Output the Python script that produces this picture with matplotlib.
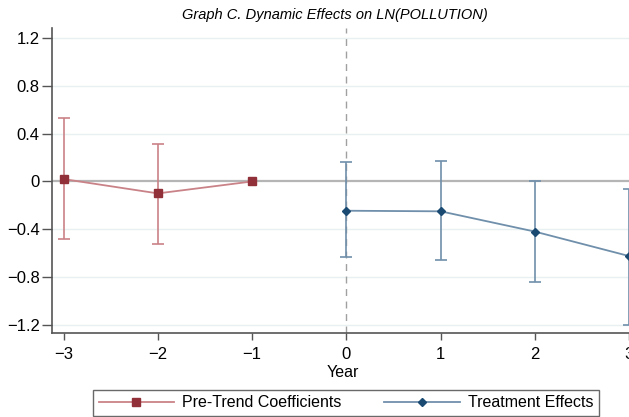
import matplotlib.pyplot as plt
import numpy as np

plt.rcParams['font.family'] = ['Liberation Sans', 'DejaVu Sans']

# pre-trend coefficients
pre_year = [-3, -2, -1]
pre_coef = [0.02, -0.10, 0.0]
pre_lo = [-0.48, -0.52, 0.0]
pre_hi = [0.535, 0.31, 0.0]

# treatment effects
post_year = [0, 1, 2, 3]
post_coef = [-0.245, -0.25, -0.42, -0.625]
post_lo = [-0.635, -0.655, -0.84, -1.2]
post_hi = [0.16, 0.17, 0.0, -0.06]

yticks = [-1.2, -0.8, -0.4, 0, 0.4, 0.8, 1.2]
ytick_labels = ["\u22121.2", "\u22120.8", "\u22120.4", "0", "0.4", "0.8", "1.2"]
xticks = [-3, -2, -1, 0, 1, 2, 3]
xtick_labels = ["\u22123", "\u22122", "\u22121", "0", "1", "2", "3"]

RED = "#913038"
RED_LINE = "#c98287"
BLUE = "#1a4a72"
BLUE_LINE = "#6f8fab"

fig = plt.figure(figsize=(6.29, 4.17), dpi=100)
ax = fig.add_axes([0.083, 0.201, 0.925, 0.732])

for y in yticks:
    if y != 0:
        ax.axhline(y, color="#e8f0f2", lw=1.0, zorder=0)
ax.axhline(0, color="#b5b5b5", lw=1.6, zorder=1)
ax.axvline(0, color="#a0a0a0", lw=1.0, ls=(0, (5, 4)), zorder=1)

pre = np.array(pre_coef)
ax.errorbar(pre_year[:2], pre[:2],
            yerr=[pre[:2] - np.array(pre_lo[:2]), np.array(pre_hi[:2]) - pre[:2]],
            fmt="none", ecolor=RED_LINE, elinewidth=1.2, capsize=4, capthick=1.2, zorder=2)
ax.plot(pre_year, pre_coef, color=RED_LINE, lw=1.3, zorder=3)
ax.plot(pre_year, pre_coef, ls="none", marker="s", ms=6, color=RED, zorder=4)

post = np.array(post_coef)
ax.errorbar(post_year, post,
            yerr=[post - np.array(post_lo), np.array(post_hi) - post],
            fmt="none", ecolor=BLUE_LINE, elinewidth=1.2, capsize=4, capthick=1.2, zorder=2)
ax.plot(post_year, post_coef, color=BLUE_LINE, lw=1.3, zorder=3)
ax.plot(post_year, post_coef, ls="none", marker="D", ms=4, color=BLUE, zorder=4)

ax.set_xlim(-3.12, 3.05)
ax.set_ylim(-1.27, 1.285)
ax.set_yticks(yticks, ytick_labels)
ax.set_xticks(xticks, xtick_labels)
ax.tick_params(axis="both", labelsize=12, width=1, color="#555555", direction="out")
ax.tick_params(axis="y", length=7, pad=2)
ax.tick_params(axis="x", length=5, pad=5)
ax.set_xlabel("Year", fontsize=11.5, labelpad=2)
for side in ["top", "right"]:
    ax.spines[side].set_visible(False)
ax.spines["left"].set_color("#555555")
ax.spines["bottom"].set_color("#555555")
ax.spines["left"].set_linewidth(1.2)
ax.spines["bottom"].set_linewidth(1.2)

fig.text(0.532, 0.965, "Graph C. Dynamic Effects on LN(POLLUTION)", ha="center", va="center",
         fontsize=10.5, style="italic")

h1, = ax.plot([], [], color=RED_LINE, lw=1.3, marker="s", ms=6, mfc=RED, mec=RED)
h2, = ax.plot([], [], color=BLUE_LINE, lw=1.3, marker="D", ms=4, mfc=BLUE, mec=BLUE)
leg = fig.legend([h1, h2], ["Pre-Trend Coefficients", "Treatment Effects"], ncol=2,
                 loc="center", bbox_to_anchor=(0.55, 0.034), fontsize=11.5, fancybox=False,
                 frameon=True, edgecolor="#444444", handlelength=4.7, columnspacing=2.7,
                 borderpad=0.35, handletextpad=0.5, borderaxespad=0.2)
leg.get_frame().set_linewidth(1.0)

fig.savefig("out.png", dpi=100)
